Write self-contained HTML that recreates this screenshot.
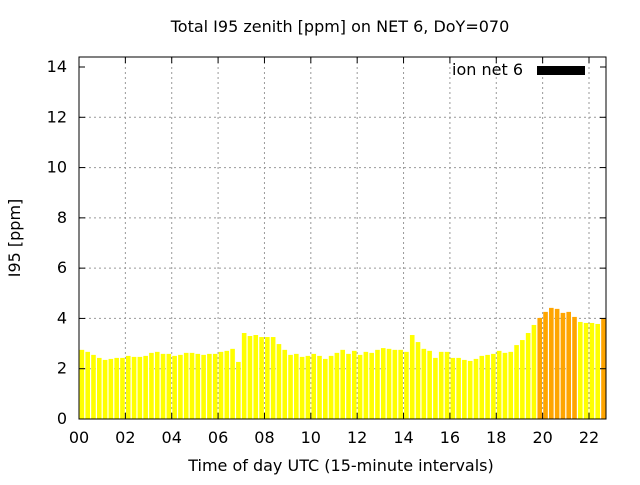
<!DOCTYPE html>
<html><head><meta charset="utf-8"><style>
body{margin:0;background:#fff}
svg text{font-family:"DejaVu Sans","Liberation Sans",sans-serif;font-size:16px;fill:#000}
</style></head><body>
<svg id="chart" width="640" height="480" xmlns="http://www.w3.org/2000/svg">
<text x="340" y="32" text-anchor="middle">Total I95 zenith [ppm] on NET 6, DoY=070</text>
<g id="grid"></g>
<g id="bars"></g>
<g id="axes"></g>
<text transform="translate(20,238) rotate(-90)" text-anchor="middle">I95 [ppm]</text>
<text x="341" y="471" text-anchor="middle">Time of day UTC (15-minute intervals)</text>
<g>
<text x="523" y="75" text-anchor="end">ion net 6</text>
<rect x="537" y="66" width="48" height="9" fill="#000"/>
</g>
</svg>
<script>
const values = [2.75,2.67,2.55,2.43,2.35,2.39,2.43,2.43,2.51,2.47,2.47,2.51,2.63,2.67,2.59,2.59,2.51,2.55,2.63,2.63,2.59,2.55,2.59,2.59,2.67,2.71,2.79,2.27,3.42,3.30,3.34,3.26,3.26,3.26,2.98,2.75,2.55,2.59,2.47,2.51,2.59,2.51,2.39,2.51,2.63,2.75,
2.59,2.71,2.55,2.67,2.63,2.75,2.82,2.79,2.75,2.75,2.67,3.34,3.06,2.79,2.71,2.43,2.67,2.67,2.43,2.43,2.35,2.31,2.39,2.51,2.55,2.59,2.71,2.63,2.67,2.94,3.14,3.42,3.74,
4.02,4.26,4.42,4.38,4.22,4.26,4.06,3.86,3.82,3.82,3.78,4.02,4.10];
const yTicks = [0,2,4,6,8,10,12,14];
const xTicks = ["00","02","04","06","08","10","12","14","16","18","20","22"];
const L=79,R=606,T=57,B=419;
const yScale=v=>B-v*(B-67)/14;
const hourW=(589-79)/22;
const xScale=h=>L+h*hourW;
const ns="http://www.w3.org/2000/svg";
function mk(tag,attrs,parent){const e=document.createElementNS(ns,tag);for(const k in attrs)e.setAttribute(k,attrs[k]);parent.appendChild(e);return e;}
const grid=document.getElementById('grid'),bars=document.getElementById('bars'),axes=document.getElementById('axes');
yTicks.forEach(v=>{const y=yScale(v);
 if(v>0&&v<14){const g=mk('line',{x1:L,x2:R,y1:y,y2:y,stroke:'#999','stroke-dasharray':'2,3'},grid);
 
 }
 const t=mk('text',{x:L-12,y:y+5,'text-anchor':'end'},axes);t.textContent=v;
 
 
 mk('line',{x1:L,x2:L+6,y1:y,y2:y,stroke:'#000'},axes);
 mk('line',{x1:R,x2:R-6,y1:y,y2:y,stroke:'#000'},axes);
});
xTicks.forEach((s,i)=>{const x=xScale(i*2);
 if(i>0){const g=mk('line',{x1:x,x2:x,y1:T,y2:B,stroke:'#999','stroke-dasharray':'2,3'},grid);
 
 }
 const t=mk('text',{x:x,y:B+24,'text-anchor':'middle'},axes);t.textContent=s;
 
 
 mk('line',{x1:x,x2:x,y1:B,y2:B-6,stroke:'#000'},axes);
 mk('line',{x1:x,x2:x,y1:T,y2:T+6,stroke:'#000'},axes);
});
mk('clipPath',{id:'clip'},bars);
mk('rect',{x:L,y:T,width:R-L,height:B-T},document.getElementById('clip'));
values.forEach((v,i)=>{const x=xScale(i/4)+0.6,y=yScale(v);
 const r=mk('rect',{x:x,y:y,width:hourW/4-1.2,height:B-y,fill:v>=4?'#ffa500':'#ffff00','clip-path':'url(#clip)'},bars);
 
 
});
const f=mk('rect',{x:L,y:T,width:R-L,height:B-T,fill:'none',stroke:'#000'},axes);


</script>
</body></html>
